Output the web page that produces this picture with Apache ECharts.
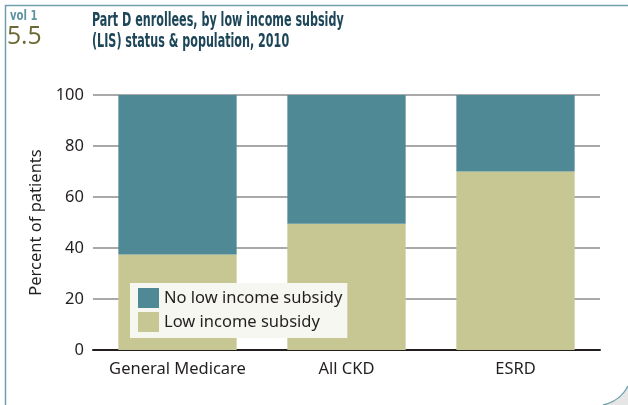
<!DOCTYPE html>
<html><head><meta charset="utf-8">
<script src="https://cdn.jsdelivr.net/npm/echarts@6/dist/echarts.min.js"></script>
<style>html,body{margin:0;padding:0;background:#fff}#c{width:628px;height:405px}</style>
</head><body><div id="c"></div>
<script>
const categories = ['General Medicare', 'All CKD', 'ESRD'];
const lowIncomeSubsidy = [37.5, 49.5, 70];
const noLowIncomeSubsidy = [62.5, 50.5, 30];
const yTicks = [0, 20, 40, 60, 80, 100];

const FONT = 'Noto Sans';
const FS = 16.5;
const chart = echarts.init(document.getElementById('c'), null, {renderer: 'canvas'});
chart.setOption({
  animation: false,
  backgroundColor: '#fff',
  grid: {left: 93, right: 28, top: 95, bottom: 55},
  legend: {
    orient: 'vertical', left: 130, top: 283,
    data: ['No low income subsidy', 'Low income subsidy'],
    itemWidth: 21, itemHeight: 20, itemGap: 4,
    padding: [5, 5, 6, 8],
    backgroundColor: '#f6f7f1',
    icon: 'rect',
    textStyle: {fontFamily: FONT, fontSize: FS, color: '#231f20', padding: [0, 0, 0, 0]}
  },
  xAxis: {
    type: 'category', data: categories,
    axisLine: {lineStyle: {color: '#231f20', width: 2}},
    axisTick: {show: false},
    axisLabel: {fontFamily: FONT, fontSize: FS, color: '#231f20', margin: 11, interval: 0, hideOverlap: false}
  },
  yAxis: {
    type: 'value', min: 0, max: 100, interval: 20,
    name: 'Percent of patients', nameLocation: 'middle', nameGap: 48,
    nameTextStyle: {fontFamily: FONT, fontSize: FS, color: '#231f20'},
    axisLine: {show: false}, axisTick: {show: false},
    axisLabel: {fontFamily: FONT, fontSize: FS, color: '#231f20', margin: 9,
      formatter: v => yTicks.includes(v) ? String(v) : ''},
    splitLine: {lineStyle: {color: '#8c8c8c', width: 1.5}}
  },
  series: [
    {name: 'Low income subsidy', type: 'bar', stack: 's', data: lowIncomeSubsidy,
     barWidth: '70%', itemStyle: {color: '#c6c793'}},
    {name: 'No low income subsidy', type: 'bar', stack: 's', data: noLowIncomeSubsidy,
     barWidth: '70%', itemStyle: {color: '#4f8995'}}
  ],
  graphic: [
    {type: 'polyline', shape: {points: [[5.5, 405], [5.5, 5.5], [628, 5.5]]},
     style: {stroke: '#6fa1ac', lineWidth: 1.5, fill: null}},
    {type: 'polygon', shape: {points: [[628, 386], [624, 394], [617, 400], [610, 403], [603, 405], [628, 405]]},
     style: {fill: '#e6e6e6', stroke: null}},
    {type: 'bezierCurve', shape: {x1: 628, y1: 386, cpx1: 622, cpy1: 398, cpx2: 612, cpy2: 403, x2: 603, y2: 405},
     style: {fill: null, stroke: '#6fa1ac', lineWidth: 1.5}},
    {type: 'text', x: 10, y: 9, scaleX: 0.8,
     style: {text: 'vol 1', fontFamily: 'DejaVu Sans Condensed', fontSize: 14, fontWeight: 'bold', fill: '#5f95a0', verticalAlign: 'top'}},
    {type: 'text', x: 7, y: 24, scaleX: 0.95,
     style: {text: '5.5', fontFamily: 'Open Sans', fontSize: 26, fill: '#6b6a36', verticalAlign: 'top'}},
    {type: 'text', x: 92, y: 10, scaleX: 0.62,
     style: {text: 'Part D enrollees, by low income subsidy\n(LIS) status & population, 2010',
      fontFamily: 'DejaVu Sans Condensed', fontSize: 20, fontWeight: 'bold', fill: '#1d4658', lineHeight: 21, verticalAlign: 'top'}}
  ]
});
</script></body></html>
